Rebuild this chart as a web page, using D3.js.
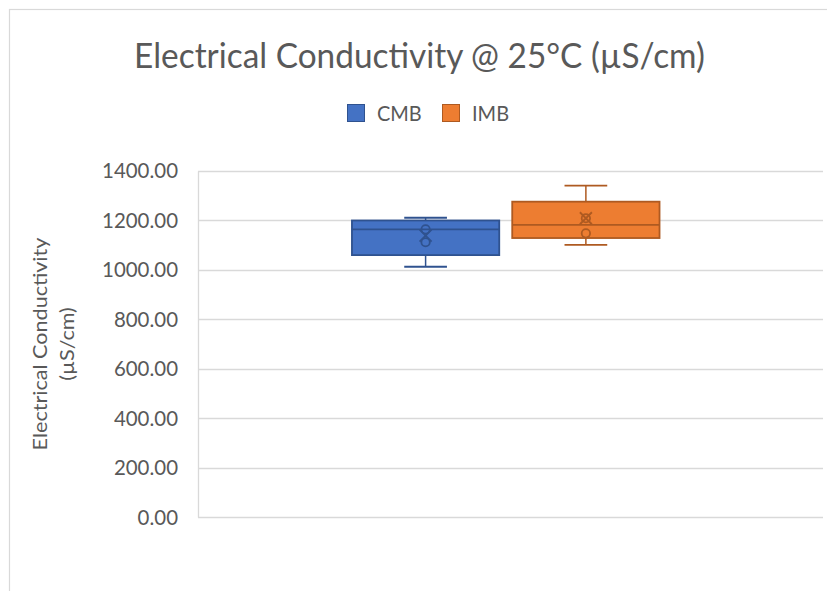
<!DOCTYPE html>
<html><head><meta charset="utf-8">
<script src="https://cdn.jsdelivr.net/npm/d3@7"></script>
<style>body{margin:0;background:#fff}svg{display:block}text{font-family:Lato,"Open Sans",sans-serif;fill:#595959}</style>
</head><body>
<script>
const title = "Electrical Conductivity @ 25°C (µS/cm)";
const yTitleLines = ["Electrical Conductivity", "(µS/cm)"];
const series = ["CMB", "IMB"];
const fills = ["#4472C4", "#ED7D31"];
const strokes = ["#2F528F", "#AE5A21"];
const mins = [1013, 1101];
const q1s = [1060, 1129];
const medians = [1164, 1182];
const q3s = [1200, 1276];
const maxs = [1211, 1341];
const means = [1139, 1209];
const innerPoints = [[1164, 1112], [1209, 1148]];
const yTicks = [0, 200, 400, 600, 800, 1000, 1200, 1400];

const W = 827, H = 591;
const svg = d3.select("body").append("svg").attr("width", W).attr("height", H);
svg.append("rect").attr("x", 9.5).attr("y", 9.5).attr("width", W).attr("height", H)
  .attr("fill", "#fff").attr("stroke", "#D9D9D9").attr("stroke-width", 1.2);

const plotL = 198, plotR = 823, plotT = 171, plotB = 517.3;
const y = d3.scaleLinear().domain([0, 1400]).range([plotB, plotT]);
const xCat = d3.scaleBand().domain([""]).range([plotL, plotR]).paddingInner(0).paddingOuter(0.516).align(0.485);
const xS = d3.scaleBand().domain(series).range([0, xCat.bandwidth()]).paddingInner(0.081).paddingOuter(0);

// horizontal squeeze so that a taller font keeps the measured width
function squeeze(sel, target) {
  const w = sel.node().getComputedTextLength();
  return target / w;
}

// gridlines
svg.append("g").selectAll("line").data(yTicks).join("line")
  .attr("x1", plotL).attr("x2", plotR)
  .attr("y1", d => Math.round(y(d)) + 0.5).attr("y2", d => Math.round(y(d)) + 0.5)
  .attr("stroke", "#D9D9D9").attr("stroke-width", 1.3);
svg.append("line").attr("x1", plotL + 0.5).attr("x2", plotL + 0.5)
  .attr("y1", Math.round(y(1400)) + 0.5).attr("y2", Math.round(y(0)) + 0.5)
  .attr("stroke", "#D9D9D9").attr("stroke-width", 1.3);

// y axis labels
const yAxis = d3.axisLeft(y).tickValues(yTicks).tickFormat(d3.format(".2f")).tickSize(0).tickPadding(0);
const ga = svg.append("g").attr("transform", `translate(${plotL - 20},0)`).call(yAxis);
ga.select(".domain").remove();
ga.selectAll("text").attr("font-size", 21.5).attr("fill", "#595959")
  .attr("font-family", "Lato, 'Open Sans', sans-serif");
const rT = squeeze(ga.selectAll("text").filter(function(){return d3.select(this).text()==="1400.00";}), 76);
ga.selectAll("text").attr("x", 0).attr("transform", `scale(${rT},1)`);

// y title
const yt = svg.append("g").attr("transform", "translate(0,344)");
yTitleLines.forEach((t, i) => {
  yt.append("text").attr("transform", `translate(${47 + i * 27},0) rotate(-90)`)
    .attr("text-anchor", "middle").attr("font-size", 19.5).text(t);
});
const rY = squeeze(yt.select("text"), 213);
yt.selectAll("text").each(function(d, i) {
  d3.select(this).attr("transform", `translate(${47 + i * 27},0) rotate(-90) scale(${rY},1)`);
});

// title
const tt = svg.append("text").attr("x", 0).attr("y", 0).attr("text-anchor", "middle")
  .attr("font-size", 35).text(title);
const rTi = squeeze(tt, 571);
tt.attr("transform", `translate(419.5,68) scale(${rTi},1)`);

// legend
const lg = svg.append("g");
const legX = [347, 442];
series.forEach((s, i) => {
  lg.append("rect").attr("x", legX[i] + 0.5).attr("y", 104.5).attr("width", 17).attr("height", 17)
    .attr("fill", fills[i]).attr("stroke", strokes[i]).attr("stroke-width", 1);
  const t = lg.append("text").attr("x", 0).attr("y", 0).attr("font-size", 21).text(s);
  t.attr("transform", `translate(${legX[i] + 30},120.5) scale(${rT},1)`);
});

// boxes
series.forEach((s, i) => {
  const x0 = xCat("") + xS(s), bw = xS.bandwidth(), cx = x0 + bw / 2;
  const cap = bw * 0.29;
  const g = svg.append("g");
  g.append("line").attr("x1", cx).attr("x2", cx).attr("y1", y(maxs[i])).attr("y2", y(q3s[i]))
    .attr("stroke", strokes[i]).attr("stroke-width", 1.5);
  g.append("line").attr("x1", cx).attr("x2", cx).attr("y1", y(q1s[i])).attr("y2", y(mins[i]))
    .attr("stroke", strokes[i]).attr("stroke-width", 1.5);
  [maxs[i], mins[i]].forEach(v => g.append("line").attr("x1", cx - cap / 2).attr("x2", cx + cap / 2)
    .attr("y1", y(v)).attr("y2", y(v)).attr("stroke", strokes[i]).attr("stroke-width", 1.8));
  g.append("rect").attr("x", x0).attr("y", y(q3s[i])).attr("width", bw).attr("height", y(q1s[i]) - y(q3s[i]))
    .attr("fill", fills[i]).attr("stroke", strokes[i]).attr("stroke-width", 1.8);
  g.append("line").attr("x1", x0).attr("x2", x0 + bw).attr("y1", y(medians[i])).attr("y2", y(medians[i]))
    .attr("stroke", strokes[i]).attr("stroke-width", 1.8);
  innerPoints[i].forEach(v => g.append("circle").attr("cx", cx).attr("cy", y(v)).attr("r", 4.2)
    .attr("fill", "none").attr("stroke", strokes[i]).attr("stroke-width", 1.8));
  const m = y(means[i]), r = 6;
  g.append("path").attr("d", `M${cx - r},${m - r}L${cx + r},${m + r}M${cx - r},${m + r}L${cx + r},${m - r}`)
    .attr("stroke", strokes[i]).attr("stroke-width", 1.8).attr("fill", "none");
});
</script>
</body></html>
